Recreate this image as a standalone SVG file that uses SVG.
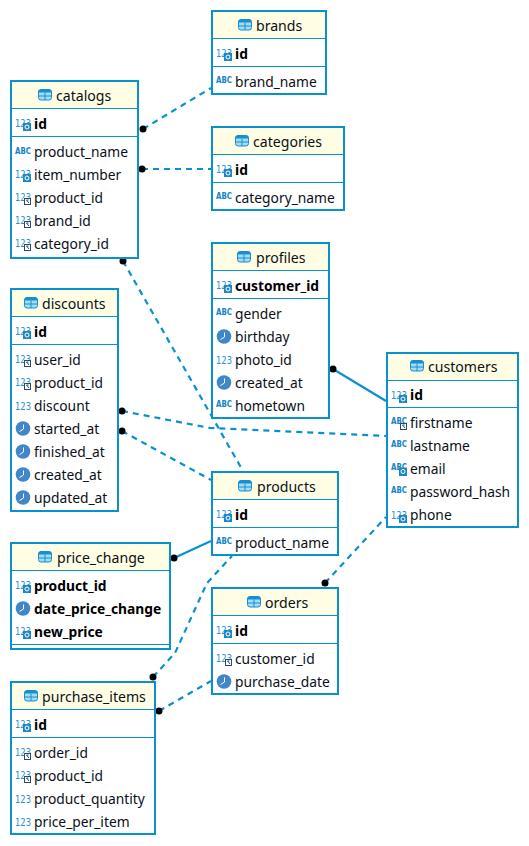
<svg xmlns="http://www.w3.org/2000/svg" xmlns:xlink="http://www.w3.org/1999/xlink" width="529" height="846" viewBox="0 0 529 846">
<style>
text{font-family:"Noto Sans","Open Sans","Liberation Sans",sans-serif;font-size:13.8px;fill:#0a1018}
.box ~ text:first-of-type{font-size:14.1px}
.b{font-weight:700;fill:#000}
.box{fill:#fff;stroke:#0792cf;stroke-width:2}
.head{fill:#fffde3}
.div{stroke:#0792cf;stroke-width:1;fill:none}
.c{fill:none;stroke:#0792cf;stroke-width:2.2}
.d{stroke-dasharray:6 5}
.i{font-family:"DejaVu Sans","Liberation Sans",sans-serif;font-size:10.5px;fill:#2b8fd0}
.a{font-family:"DejaVu Sans","Liberation Sans",sans-serif;font-size:8px;font-weight:700;fill:#1683c8}
</style>
<defs>
<g id="tbl"><rect x="0.5" y="0.5" width="13" height="10.500" rx="2.500" fill="#a5dcf5" stroke="#1590d0"/><path d="M0.5 3.500H13.500V2Q13.500 .5 11 .5H3Q.5 .5 .5 2Z" fill="#1590d0"/><path d="M0.5 7H13.500M7 3.500V11" stroke="#1590d0" fill="none"/></g>
<g id="num"><text class="i" x="0" y="10.500" textLength="16" lengthAdjust="spacingAndGlyphs">123</text></g>
<g id="pk"><use href="#num"/><rect x="8" y="7" width="8" height="8" fill="#1b87c9"/><circle cx="12" cy="11" r="2" fill="none" stroke="#fff"/></g>
<g id="fk"><use href="#num"/><rect x="9.500" y="8.500" width="6" height="6" fill="#fff" stroke="#2c4a70"/><path d="M11.500 10l2.500 3M11.500 10h2" stroke="#2c4a70" fill="none"/></g>
<g id="abc"><text class="a" x="0" y="6.500" textLength="16" lengthAdjust="spacingAndGlyphs">ABC</text></g>
<g id="abcpk"><use href="#abc"/><rect x="8" y="4.500" width="8" height="8.500" fill="#1b87c9"/><circle cx="12" cy="8.500" r="2" fill="none" stroke="#fff"/></g>
<g id="abcfk"><use href="#abc"/><rect x="9.500" y="6.500" width="6" height="6" fill="#fff" stroke="#2c4a70"/><path d="M11.500 8l2.500 3M11.500 8h2" stroke="#2c4a70" fill="none"/></g>
<g id="clk"><circle cx="7" cy="6.500" r="7.300" fill="#3f87c8"/><path d="M7.500 2.500V7L3.500 9.500" stroke="#fff" fill="none"/></g>
</defs>

<g id="connectors">
<path class="c d" d="M143 129L211 88"/>
<path class="c d" d="M142 169H211"/>
<path class="c d" d="M123 261L243 471"/>
<path class="c" d="M333 369L386 401"/>
<path class="c d" d="M122 411L210 428L386 436"/>
<path class="c d" d="M122 431L211 480"/>
<path class="c" d="M174 558L211 541"/>
<path class="c d" d="M153 677L175 653L207 583L232 556"/>
<path class="c d" d="M159 711L211 681"/>
<path class="c d" d="M325 583L386 517"/>
<g fill="#000"><circle cx="143" cy="129" r="3.500"/><circle cx="142" cy="169" r="3.500"/><circle cx="123" cy="261" r="3.500"/><circle cx="333" cy="369" r="3.500"/><circle cx="122" cy="411" r="3.500"/><circle cx="122" cy="431" r="3.500"/><circle cx="174" cy="558" r="3.500"/><circle cx="153" cy="677" r="3.500"/><circle cx="159" cy="711" r="3.500"/><circle cx="325" cy="583" r="3.500"/></g>
</g>

<g id="brands">
<rect class="box" x="212" y="11" width="114" height="83"/><rect class="head" x="213" y="12" width="112" height="26"/>
<path class="div" d="M212 38.500H326M212 66.500H326"/>
<use href="#tbl" x="238" y="19"/><text x="256" y="31">brands</text>
<use href="#pk" x="216" y="46"/><text class="b" x="235" y="59">id</text>
<use href="#abc" x="216" y="76"/><text x="235" y="87">brand_name</text>
</g>

<g id="categories">
<rect class="box" x="212" y="127" width="132" height="83"/><rect class="head" x="213" y="128" width="130" height="26"/>
<path class="div" d="M212 154.500H344M212 182.500H344"/>
<use href="#tbl" x="235" y="135"/><text x="253" y="147">categories</text>
<use href="#pk" x="216" y="162"/><text class="b" x="235" y="175">id</text>
<use href="#abc" x="216" y="192"/><text x="235" y="203">category_name</text>
</g>

<g id="catalogs">
<rect class="box" x="11" y="81" width="127" height="177"/><rect class="head" x="12" y="82" width="125" height="26"/>
<path class="div" d="M11 108.500H138M11 136.500H138"/>
<use href="#tbl" x="38" y="89"/><text x="56" y="101">catalogs</text>
<use href="#pk" x="15" y="116"/><text class="b" x="34" y="129">id</text>
<use href="#abc" x="15" y="147"/><text x="34" y="157">product_name</text>
<use href="#pk" x="15" y="167"/><text x="34" y="180">item_number</text>
<use href="#fk" x="15" y="190"/><text x="34" y="203">product_id</text>
<use href="#fk" x="15" y="213"/><text x="34" y="226">brand_id</text>
<use href="#fk" x="15" y="236"/><text x="34" y="249">category_id</text>
</g>

<g id="profiles">
<rect class="box" x="212" y="243" width="117" height="175"/><rect class="head" x="213" y="244" width="115" height="26"/>
<path class="div" d="M212 270.500H329M212 298.500H329"/>
<use href="#tbl" x="237" y="251"/><text x="256" y="263">profiles</text>
<use href="#pk" x="216" y="278"/><text class="b" x="235" y="291">customer_id</text>
<use href="#abc" x="216" y="308"/><text x="235" y="319">gender</text>
<use href="#clk" x="217" y="330"/><text x="235" y="342">birthday</text>
<use href="#num" x="216" y="353"/><text x="235" y="365">photo_id</text>
<use href="#clk" x="217" y="376"/><text x="235" y="388">created_at</text>
<use href="#abc" x="216" y="400"/><text x="235" y="411">hometown</text>
</g>

<g id="customers">
<rect class="box" x="387" y="353" width="131" height="174"/><rect class="head" x="388" y="354" width="129" height="26"/>
<path class="div" d="M387 380.500H518M387 407.500H518"/>
<use href="#tbl" x="410" y="360"/><text x="428" y="372">customers</text>
<use href="#pk" x="391" y="388"/><text class="b" x="410" y="400">id</text>
<use href="#abcfk" x="391" y="417"/><text x="410" y="428">firstname</text>
<use href="#abc" x="391" y="440"/><text x="410" y="451">lastname</text>
<use href="#abcpk" x="391" y="463"/><text x="410" y="474">email</text>
<use href="#abc" x="391" y="486"/><text x="410" y="497">password_hash</text>
<use href="#pk" x="391" y="508"/><text x="410" y="520">phone</text>
</g>

<g id="discounts">
<rect class="box" x="11" y="289" width="107" height="222"/><rect class="head" x="12" y="290" width="105" height="26"/>
<path class="div" d="M11 316.500H118M11 344.500H118"/>
<use href="#tbl" x="24" y="297"/><text x="42" y="309">discounts</text>
<use href="#pk" x="15" y="324"/><text class="b" x="34" y="337">id</text>
<use href="#fk" x="15" y="352"/><text x="34" y="365">user_id</text>
<use href="#fk" x="15" y="375"/><text x="34" y="388">product_id</text>
<use href="#num" x="15" y="399"/><text x="34" y="411">discount</text>
<use href="#clk" x="16" y="422"/><text x="34" y="434">started_at</text>
<use href="#clk" x="16" y="445"/><text x="34" y="457">finished_at</text>
<use href="#clk" x="16" y="468"/><text x="34" y="480">created_at</text>
<use href="#clk" x="16" y="491"/><text x="34" y="503">updated_at</text>
</g>

<g id="products">
<rect class="box" x="212" y="472" width="126" height="83"/><rect class="head" x="213" y="473" width="124" height="26"/>
<path class="div" d="M212 499.500H338M212 527.500H338"/>
<use href="#tbl" x="238" y="480"/><text x="257" y="492">products</text>
<use href="#pk" x="216" y="507"/><text class="b" x="235" y="520">id</text>
<use href="#abc" x="216" y="537"/><text x="235" y="548">product_name</text>
</g>

<g id="price_change">
<rect class="box" x="11" y="543" width="159" height="106"/><rect class="head" x="12" y="544" width="157" height="26"/>
<path class="div" d="M11 570.500H170M11 644.500H170"/>
<use href="#tbl" x="38" y="551"/><text x="57" y="563">price_change</text>
<use href="#pk" x="15" y="578"/><text class="b" x="34" y="591">product_id</text>
<use href="#clk" x="16" y="602"/><text class="b" x="34" y="614">date_price_change</text>
<use href="#pk" x="15" y="624"/><text class="b" x="34" y="637">new_price</text>
</g>

<g id="orders">
<rect class="box" x="212" y="588" width="126" height="106"/><rect class="head" x="213" y="589" width="124" height="26"/>
<path class="div" d="M212 615.500H338M212 643.500H338"/>
<use href="#tbl" x="247" y="596"/><text x="265" y="608">orders</text>
<use href="#pk" x="216" y="623"/><text class="b" x="235" y="636">id</text>
<use href="#fk" x="216" y="651"/><text x="235" y="664">customer_id</text>
<use href="#clk" x="217" y="675"/><text x="235" y="687">purchase_date</text>
</g>

<g id="purchase_items">
<rect class="box" x="11" y="682" width="144" height="152"/><rect class="head" x="12" y="683" width="142" height="26"/>
<path class="div" d="M11 709.500H155M11 737.500H155"/>
<use href="#tbl" x="24" y="690"/><text x="42" y="702">purchase_items</text>
<use href="#pk" x="15" y="717"/><text class="b" x="34" y="730">id</text>
<use href="#fk" x="15" y="745"/><text x="34" y="758">order_id</text>
<use href="#fk" x="15" y="768"/><text x="34" y="781">product_id</text>
<use href="#num" x="15" y="792"/><text x="34" y="804">product_quantity</text>
<use href="#num" x="15" y="815"/><text x="34" y="827">price_per_item</text>
</g>
</svg>
